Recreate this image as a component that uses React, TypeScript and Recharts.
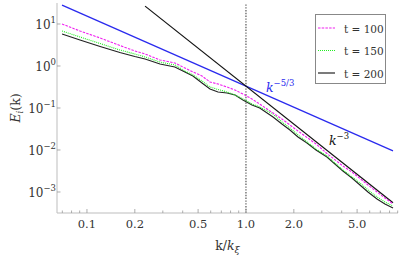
import React from "react";
import { LineChart, Line, XAxis, YAxis, ReferenceLine, ReferenceDot, Legend } from "recharts";

// wavenumber k / k_xi
const K = [0.0697, 0.0904, 0.121, 0.161, 0.2, 0.232, 0.288, 0.357, 0.413, 0.464, 0.529, 0.594, 0.667, 0.76, 0.853, 0.957, 1.091, 1.22, 1.48, 1.683, 1.89, 2.124, 2.42, 2.756, 3.23, 4.07, 4.64, 5.21, 5.85, 6.67, 7.48, 8.41];
const E_T100 = [10.0, 6.81, 4.64, 3.08, 2.28, 1.93, 1.39, 1.18, 0.896, 0.72, 0.578, 0.416, 0.373, 0.316, 0.268, 0.215, 0.164, 0.124, 0.076, 0.0547, 0.0394, 0.0283, 0.0199, 0.0139, 0.00826, 0.00416, 0.00299, 0.0021, 0.00147, 0.001, 0.00072, 0.000518];
const E_T150 = [6.81, 4.9, 3.43, 2.4, 1.93, 1.64, 1.24, 1.06, 0.76, 0.611, 0.44, 0.316, 0.276, 0.24, 0.204, 0.164, 0.124, 0.106, 0.072, 0.0464, 0.0334, 0.0228, 0.0155, 0.01056, 0.0072, 0.00334, 0.00228, 0.00164, 0.00112, 0.00076, 0.000578, 0.000464];
const E_T200 = [5.78, 4.16, 2.91, 2.1, 1.68, 1.47, 1.12, 0.946, 0.72, 0.578, 0.394, 0.283, 0.24, 0.228, 0.204, 0.155, 0.118, 0.1, 0.0611, 0.0416, 0.0299, 0.0204, 0.0147, 0.01, 0.00681, 0.00316, 0.00215, 0.00147, 0.001, 0.00068, 0.000518, 0.000416];

// reference power laws
const REF53_K = [0.0697, 8.41];
const REF53_E = [28.1, 0.0095];
const REF3_K = [0.232, 8.41];
const REF3_E = [26.6, 0.000556];

const X_TICKS = [0.07, 0.08, 0.09, 0.1, 0.2, 0.3, 0.4, 0.5, 0.6, 0.7, 0.8, 0.9, 1, 2, 3, 4, 5, 6, 7, 8, 9];
const X_LABELS: Record<string, string> = { "0.1": "0.1", "0.2": "0.2", "0.5": "0.5", "1": "1.0", "2": "2.0", "5": "5.0" };
const Y_TICKS = [0.001, 0.01, 0.1, 1, 10];
const Y_EXP: Record<string, string> = { "0.001": "\u22123", "0.01": "\u22122", "0.1": "\u22121", "1": "0", "10": "1" };

const SERIES = [
  { name: "t = 100", values: E_T100, color: "#f020f0", dash: "2.5 1.2" },
  { name: "t = 150", values: E_T150, color: "#22ee22", dash: "1 1" },
  { name: "t = 200", values: E_T200, color: "#222222", dash: undefined as string | undefined },
];

const toData = (ks: number[], es: number[]) => ks.map((k, i) => ({ k, E: es[i] }));

const FONT = '"DejaVu Serif", serif';
const FS = { fontFamily: FONT };
const AXIS = "#bdbdbd";
const TXT = "#333";

const XTick = (props: any) => {
  const { x, y, payload } = props;
  const lab = X_LABELS[String(payload.value)];
  return (
    <g>
      <line x1={x} y1={y} x2={x} y2={y - (lab ? 4 : 2.5)} stroke="#999" strokeWidth={0.8} />
      {lab && (
        <text x={x} y={y + 14.5} textAnchor="middle" style={FS} fontSize={11.5} fill={TXT}>
          {lab}
        </text>
      )}
    </g>
  );
};

const YTick = (props: any) => {
  const { x, y, payload } = props;
  const ex = Y_EXP[String(payload.value)];
  return (
    <g>
      <line x1={x} y1={y} x2={x + 3.5} y2={y} stroke="#999" strokeWidth={0.8} />
      <text x={x - 1} y={y + 5} textAnchor="end" style={FS} fontSize={12} fill={TXT}>
        10
        <tspan dy={-6} fontSize={8.5}>{ex}</tspan>
      </text>
    </g>
  );
};

const XLabel = (props: any) => {
  const vb = props.viewBox;
  return (
    <text x={vb.x + vb.width / 2} y={vb.y + 37} textAnchor="middle" style={FS} fontSize={12.5} fill={TXT}>
      k/<tspan fontStyle="italic">k</tspan>
      <tspan dy={3} fontSize={9.5} fontStyle="italic">{"\u03be"}</tspan>
    </text>
  );
};

const YLabel = (props: any) => {
  const vb = props.viewBox;
  const cx = vb.x + 20;
  const cy = vb.y + vb.height / 2;
  return (
    <text x={cx} y={cy} textAnchor="middle" transform={`rotate(-90 ${cx} ${cy})`} style={FS} fontSize={12.5} fill={TXT}>
      <tspan fontStyle="italic">E</tspan>
      <tspan dy={3} fontSize={8.5} fontStyle="italic">i</tspan>
      <tspan dy={-3}>(k)</tspan>
    </text>
  );
};

const annot = (base: string, sup: string, color: string) => (props: any) => {
  const vb = props.viewBox;
  return (
    <text x={vb.x} y={vb.y} style={FS} fontSize={12.5} fill={color}>
      <tspan fontStyle="italic">{base}</tspan>
      <tspan dy={-6} fontSize={8.5}>{sup}</tspan>
    </text>
  );
};

const LegendBox = () => (
  <div
    style={{
      width: 71,
      height: 70,
      border: "1px solid #888",
      background: "#fff",
      boxSizing: "border-box",
    }}
  >
    <svg width={71} height={70}>
      {SERIES.map((s, i) => (
        <g key={s.name}>
          <line x1={2} x2={19} y1={13 + i * 22.5} y2={13 + i * 22.5} stroke={s.color} strokeWidth={1.2} strokeDasharray={s.dash} />
          <text x={28} y={17.5 + i * 22.5} style={FS} fontSize={10.5} fill={TXT}>
            {s.name}
          </text>
        </g>
      ))}
    </svg>
  </div>
);

export default function App() {
  return (
    <div style={{ position: "absolute", left: 0, top: 0, width: 415, height: 260, background: "#fff" }}>
      <LineChart width={415} height={260} margin={{ top: 3, right: 17, bottom: 0, left: 0 }}>
        <XAxis
          dataKey="k"
          type="number"
          scale="log"
          domain={[0.0648, 9.04]}
          allowDataOverflow
          ticks={X_TICKS}
          interval={0}
          tick={<XTick />}
          tickLine={false}
          tickSize={0}
          tickMargin={0}
          axisLine={{ stroke: AXIS }}
          height={47}
          label={{ content: <XLabel /> } as any}
        />
        <YAxis
          yAxisId="l"
          type="number"
          scale="log"
          domain={[0.000316, 31.6]}
          allowDataOverflow
          ticks={Y_TICKS}
          interval={0}
          tick={<YTick />}
          tickLine={false}
          tickSize={0}
          tickMargin={0}
          axisLine={{ stroke: AXIS }}
          width={57}
          label={{ content: <YLabel /> } as any}
        />
        <YAxis yAxisId="r" orientation="right" width={0} tick={false} tickLine={false} axisLine={{ stroke: "#e2e2e2" }} domain={[0, 1]} />
        <ReferenceLine yAxisId="l" x={1} stroke="#444" strokeWidth={1.1} strokeDasharray="1.4 1.4" />
        <Line yAxisId="l" data={toData(REF53_K, REF53_E)} dataKey="E" stroke="#2a2aee" strokeWidth={1.3} dot={false} isAnimationActive={false} legendType="none" />
        <Line yAxisId="l" data={toData(REF3_K, REF3_E)} dataKey="E" stroke="#111" strokeWidth={1.2} dot={false} isAnimationActive={false} legendType="none" />
        {SERIES.slice().reverse().map((s) => (
          <Line
            key={s.name}
            yAxisId="l"
            name={s.name}
            data={toData(K, s.values)}
            dataKey="E"
            stroke={s.color}
            strokeWidth={1.1}
            strokeDasharray={s.dash}
            dot={false}
            isAnimationActive={false}
          />
        ))}
        <ReferenceDot yAxisId="l" x={1.336} y={0.24} r={0} stroke="none" label={{ content: annot("k", "\u22125/3", "#2a2aee") } as any} />
        <ReferenceDot yAxisId="l" x={3.33} y={0.01315} r={0} stroke="none" label={{ content: annot("k", "\u22123", "#111") } as any} />
        <Legend
          layout="horizontal"
          verticalAlign="middle"
          align="center"
          content={<LegendBox />}
          wrapperStyle={{ position: "absolute", left: 315, top: 14, width: 72, height: 71 }}
        />
      </LineChart>
    </div>
  );
}
